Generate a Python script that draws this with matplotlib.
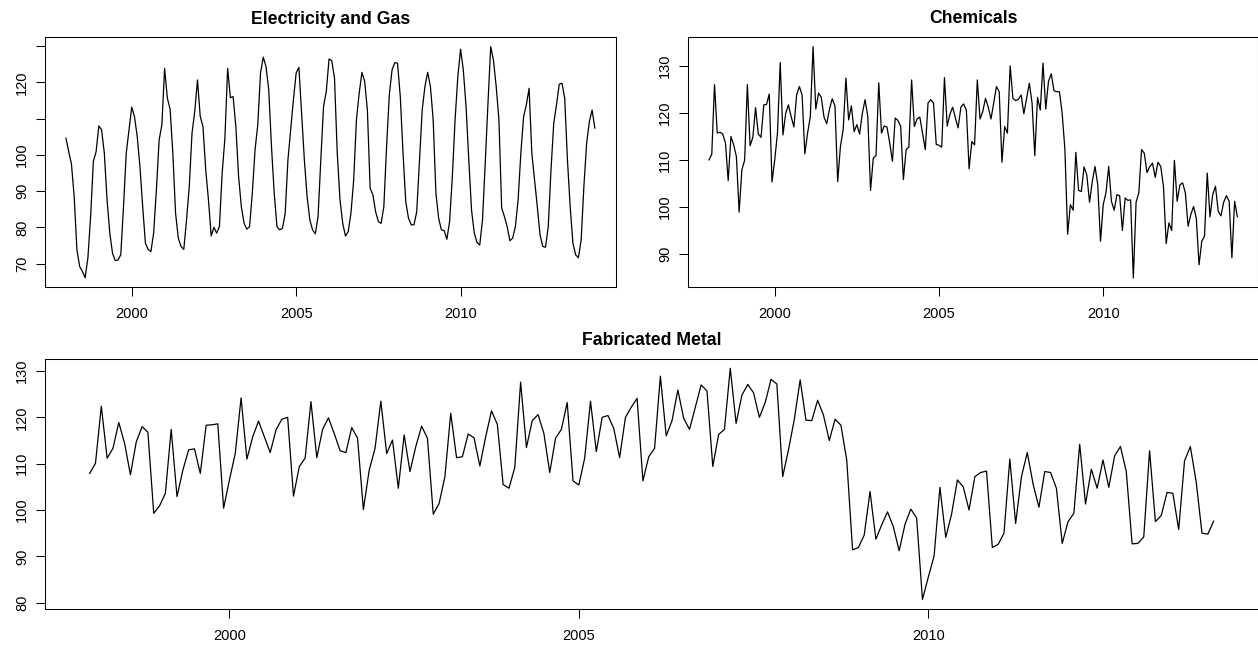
import matplotlib
matplotlib.use("Agg")
import matplotlib.pyplot as plt
import numpy as np

plt.rcParams['font.family'] = ['Liberation Sans', 'DejaVu Sans']

# monthly index values, Jan 1998 - Feb 2014
start_year = 1998
elec = [104.6, 100.9, 97.5, 88.5, 73.8, 69.2, 67.8, 66.1, 71.5, 83.0, 98.2, 100.9,
        108.0, 106.9, 100.5, 87.6, 78.4, 72.8, 70.8, 71.0, 72.4, 85.7, 100.5, 106.9,
        113.2, 110.6, 105.1, 96.8, 85.7, 75.6, 73.9, 73.3, 78.4, 90.3, 104.1, 108.3,
        123.9, 115.7, 112.6, 100.5, 83.9, 77.0, 74.7, 73.9, 82.0, 91.3, 106.0, 112.0,
        120.7, 110.6, 107.8, 95.9, 87.6, 77.6, 80.0, 78.4, 80.2, 94.9, 104.6, 123.9,
        115.8, 116.1, 107.8, 94.0, 85.7, 81.1, 79.5, 80.2, 89.4, 101.4, 108.3, 122.6,
        127.0, 124.4, 118.0, 102.3, 89.4, 80.2, 79.3, 79.7, 83.9, 98.6, 106.9, 115.2,
        122.6, 124.2, 111.5, 98.6, 88.5, 82.0, 79.3, 78.2, 83.0, 98.6, 113.4, 117.5,
        126.5, 126.0, 121.2, 100.5, 87.6, 81.1, 77.6, 78.8, 83.9, 93.1, 109.7, 117.0,
        122.8, 120.3, 112.4, 90.8, 89.0, 84.3, 81.6, 81.1, 85.7, 102.3, 116.6, 123.5,
        125.5, 125.3, 116.1, 100.5, 87.1, 82.5, 80.7, 80.7, 84.3, 98.6, 112.4, 118.9,
        122.8, 118.9, 109.7, 89.4, 82.5, 79.3, 79.1, 76.7, 81.6, 94.0, 109.7, 121.6,
        129.2, 123.5, 113.4, 98.6, 84.8, 78.4, 75.8, 75.1, 82.0, 97.7, 114.3, 129.9,
        126.2, 118.9, 109.7, 85.3, 83.0, 80.2, 76.3, 77.0, 80.2, 87.6, 100.5, 110.6,
        113.8, 118.4, 100.5, 93.1, 85.7, 77.9, 74.7, 74.5, 80.2, 95.9, 108.7, 113.8,
        119.5, 119.8, 115.7, 98.6, 85.7, 75.6, 72.4, 71.6, 76.5, 91.3, 103.2, 109.2,
        112.4, 107.4]

chem = [110.0, 111.2, 126.0, 115.7, 115.9, 115.5, 113.6, 105.6, 115.0, 113.2, 110.7, 98.9,
        107.9, 109.9, 126.0, 113.0, 114.8, 121.1, 115.5, 114.8, 121.7, 121.8, 124.0, 105.3,
        110.0, 115.7, 130.7, 115.3, 119.9, 121.7, 119.2, 117.0, 123.8, 125.6, 123.8, 111.3,
        115.7, 119.2, 134.1, 120.8, 124.2, 123.3, 119.1, 117.7, 120.8, 123.0, 121.5, 105.4,
        112.9, 116.4, 127.4, 118.5, 121.5, 116.0, 117.5, 115.5, 119.9, 122.8, 119.2, 103.5,
        110.4, 110.9, 126.4, 115.7, 117.2, 117.0, 113.6, 109.7, 118.9, 118.4, 117.1, 105.8,
        112.2, 112.7, 127.0, 117.1, 118.7, 119.1, 115.7, 112.2, 122.1, 122.8, 122.1, 113.3,
        113.1, 112.7, 127.5, 117.2, 119.7, 121.2, 118.9, 116.8, 121.2, 121.9, 120.6, 108.1,
        113.9, 113.2, 127.0, 118.7, 120.3, 123.1, 121.2, 118.7, 122.1, 125.6, 124.5, 109.5,
        117.1, 115.7, 130.0, 123.1, 122.6, 122.9, 123.8, 119.8, 123.1, 126.3, 122.1, 110.9,
        123.3, 120.6, 130.6, 120.8, 126.7, 128.3, 124.7, 124.5, 124.5, 119.9, 112.2, 94.2,
        100.5, 99.3, 111.6, 103.5, 103.3, 108.5, 106.8, 101.0, 105.4, 108.6, 104.7, 92.7,
        100.5, 103.0, 108.6, 101.2, 99.3, 102.6, 102.4, 95.0, 101.9, 101.4, 101.5, 84.9,
        101.0, 103.0, 112.2, 111.4, 107.3, 108.6, 109.3, 106.3, 109.5, 108.6, 104.4, 92.2,
        96.6, 95.0, 109.9, 101.2, 104.7, 105.1, 103.0, 95.9, 98.4, 100.1, 97.6, 87.7,
        92.7, 93.8, 107.2, 97.9, 102.6, 104.4, 99.1, 98.1, 101.0, 102.4, 101.2, 89.2,
        101.2, 97.9]

fab = [107.9, 110.1, 122.4, 111.2, 113.3, 118.9, 114.4, 107.6, 114.7, 118.0, 116.8, 99.3,
       100.9, 103.6, 117.4, 102.9, 108.6, 113.0, 113.2, 107.9, 118.3, 118.4, 118.6, 100.4,
       106.5, 112.2, 124.2, 111.0, 115.8, 119.2, 115.8, 112.4, 117.3, 119.6, 120.0, 103.0,
       109.4, 111.2, 123.4, 111.3, 117.4, 119.9, 116.5, 112.8, 112.4, 117.8, 115.5, 100.1,
       108.6, 113.3, 123.5, 112.2, 115.1, 104.7, 116.2, 108.3, 113.7, 118.1, 115.5, 99.1,
       101.4, 107.2, 120.9, 111.3, 111.5, 116.4, 115.6, 109.5, 115.8, 121.4, 118.5, 105.5,
       104.7, 109.2, 127.6, 113.5, 119.3, 120.6, 116.5, 108.1, 115.5, 117.4, 123.2, 106.3,
       105.4, 111.2, 123.5, 112.6, 120.0, 120.4, 117.6, 111.3, 120.0, 122.2, 124.1, 106.3,
       111.5, 113.3, 128.9, 116.0, 119.3, 125.9, 119.8, 117.4, 122.2, 127.0, 125.7, 109.4,
       116.3, 117.4, 130.6, 118.7, 124.8, 127.1, 125.3, 120.0, 123.2, 128.2, 127.2, 107.2,
       113.0, 119.6, 128.1, 119.4, 119.3, 123.7, 120.5, 115.0, 119.6, 118.3, 110.8, 91.4,
       91.9, 94.6, 104.0, 93.7, 96.8, 99.6, 96.4, 91.2, 96.9, 100.2, 98.3, 80.7,
       85.5, 90.1, 104.9, 94.1, 99.1, 106.5, 105.0, 100.0, 107.2, 108.1, 108.4, 91.9,
       92.6, 95.0, 111.0, 97.1, 107.2, 112.4, 105.6, 100.6, 108.3, 108.1, 104.7, 92.8,
       97.5, 99.3, 114.2, 101.3, 108.8, 104.7, 110.8, 104.9, 111.7, 113.7, 108.3, 92.7,
       92.8, 94.2, 112.8, 97.5, 98.8, 103.8, 103.6, 95.8, 110.6, 113.7, 106.1, 95.0,
       94.8, 97.6]

x_ticks = [2000, 2005, 2010]
elec_yticks = [70, 80, 90, 100, 110, 120, 130]
elec_ylabels = ['70', '80', '90', '100', '', '120', '']
chem_yticks = [90, 100, 110, 120, 130]
fab_yticks = [80, 90, 100, 110, 120, 130]


def ts_panel(ax, values, title, yticks, ylabels=None):
    t = start_year + np.arange(len(values)) / 12.0
    ax.plot(t, values, color='black', lw=0.9)
    ax.margins(x=0.04, y=0.04)
    ax.set_title(title, fontsize=12.7, fontweight='bold', pad=10)
    ax.set_xticks(x_ticks)
    ax.set_yticks(yticks)
    if ylabels is not None:
        ax.set_yticklabels(ylabels)
    ax.tick_params(axis='x', length=6.8, width=0.75, pad=7.5, labelsize=10.5)
    ax.tick_params(axis='y', length=6.8, width=0.75, pad=4.5, labelsize=10.5,
                   labelrotation=90)
    for lab in ax.get_yticklabels():
        lab.set_va('center')
    for s in ax.spines.values():
        s.set_linewidth(0.75)


W, H = 1258, 646
fig = plt.figure(figsize=(W / 100, H / 100), dpi=100)

ax1 = fig.add_axes([44.8 / W, 1 - 286.9 / H, 571.2 / W, 249.5 / H])
ts_panel(ax1, elec, "Electricity and Gas", elec_yticks, elec_ylabels)

ax2 = fig.add_axes([687.9 / W, 1 - 287.2 / H, 570.6 / W, 249.9 / H])
ts_panel(ax2, chem, "Chemicals", chem_yticks)

ax3 = fig.add_axes([44.7 / W, 1 - 608.7 / H, 1213.9 / W, 249.7 / H])
ts_panel(ax3, fab, "Fabricated Metal", fab_yticks)

fig.savefig("out.png", dpi=100)
